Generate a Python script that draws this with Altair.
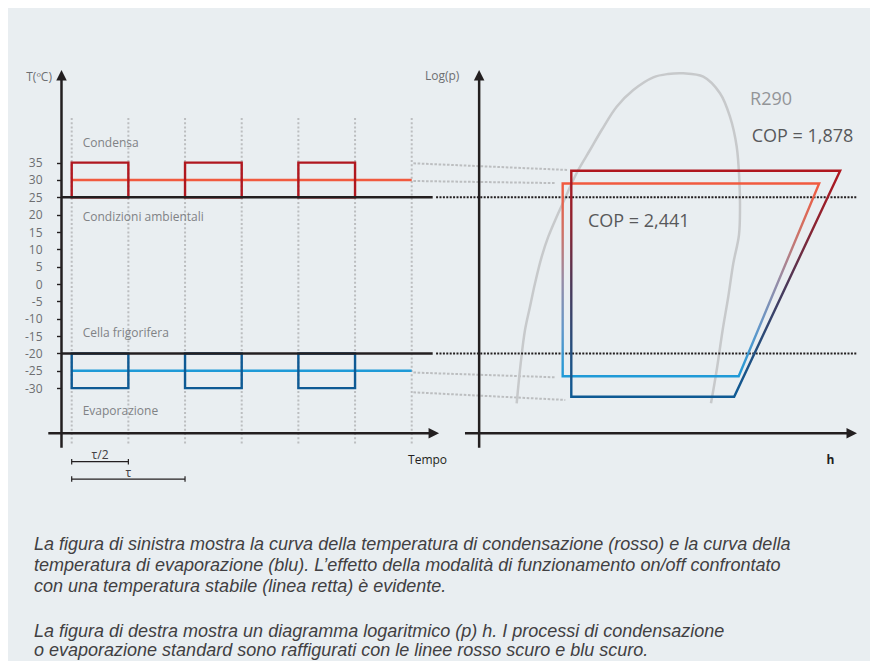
import altair as alt
import pandas as pd

# ---------------- values ----------------
# vertical temperature axis (°C)
T_TICKS = [35, 30, 25, 20, 15, 10, 5, 0, -5, -10, -15, -20, -25, -30]
# time axis in units of tau/2
PHASES = [0, 1, 2, 3, 4, 5, 6]
ON_START = [0, 2, 4]
ON_END = [1, 3, 5]
T_COND_ON, T_AMBIENT, T_COND_STABLE = 35, 25, 30
T_EVAP_ON, T_CELL, T_EVAP_STABLE = -30, -20, -25

# log(p)-h cycles (h in the same horizontal unit, level expressed in °C)
DARK_H = [8.816, 13.56, 11.69, 8.816, 8.816]
DARK_T = [32.67, 32.67, -32.47, -32.47, 32.67]
LIGHT_H = [8.664, 13.19, 11.77, 8.664, 8.664]
LIGHT_T = [28.98, 28.98, -26.59, -26.59, 28.98]

# R290 saturation dome
DOME_H = [7.852, 7.923, 7.999, 8.087, 8.176, 8.294, 8.410, 8.558, 8.705, 8.823,
          8.939, 9.146, 9.352, 9.617, 9.910, 10.263, 10.522, 10.792, 11.145, 11.440,
          11.616, 11.735, 11.781, 11.793, 11.775, 11.675, 11.586, 11.487, 11.382, 11.281]
DOME_T = [-34.37, -22.84, -13.24, -6.53, 0.22, 7.88, 13.65, 19.41, 24.71, 29.03,
          32.87, 38.63, 44.39, 51.11, 55.92, 59.58, 60.53, 60.73, 59.76, 54.97,
          48.23, 39.58, 29.99, 22.29, 14.14, 5.98, -3.65, -13.24, -24.77, -34.37]

# dotted connectors from the left diagram to the right one
CONN_H0 = [6.03, 6.03, 6.03, 6.03]
CONN_T0 = [34.8, 29.7, -25.5, -31.2]
CONN_H1 = [8.76, 8.53, 8.53, 8.71]
CONN_T1 = [32.87, 29.1, -26.87, -33.4]

# axes geometry (shared units)
LEFT_AXIS_H, RIGHT_AXIS_H = -0.18, 7.19
AXIS_TOP_T, AXIS_BOTTOM_T, BASE_T = 60.0, -47.2, -43.0
TIME_AXIS_H = [-0.413, 6.39]
H_AXIS_H = [6.94, 13.765]
ARROW_TIP_T = 60.17
SOLID_REF_H = [-0.18, 6.37]
DOTTED_REF_H = [6.43, 13.86]
GRID_T = [47.85, -46.4]

REGION_LABELS = ["Condensa", "Condizioni ambientali", "Cella frigorifera", "Evaporazione"]
REGION_T = [40.7, 19.24, -14.1, -36.5]

CAPTION = [
    "La figura di sinistra mostra la curva della temperatura di condensazione (rosso) e la curva della",
    "temperatura di evaporazione (blu). L\u2019effetto della modalità di funzionamento on/off confrontato",
    "con una temperatura stabile (linea retta) è evidente.",
    "La figura di destra mostra un diagramma logaritmico (p) h. I processi di condensazione",
    "o evaporazione standard sono raffigurati con le linee rosso scuro e blu scuro.",
]
CAPTION_T = [-75.2, -81.28, -87.33, -100.13, -105.75]

# ---------------- colours / scales ----------------
BLACK = "#231f20"
DARK_RED, LIGHT_RED = "#b0171f", "#f15a3f"
DARK_BLUE, LIGHT_BLUE = "#0e5a94", "#1f9ad7"
GRAY_DOT = "#bcbec0"
FONT = "Open Sans"

XS = alt.Scale(domain=[-1.124, 14.087], nice=False, zero=False)
YS = alt.Scale(domain=[-108.63, 79.553], nice=False, zero=False)
YAXIS = alt.Axis(values=T_TICKS, domain=False, grid=False, tickSize=5, tickWidth=1.4,
                 tickColor=BLACK, labelColor="#6d6e71", labelFontSize=12, labelFont=FONT,
                 labelPadding=14.5, labelOverlap=False, offset=-53.5, title=None,
                 labelExpr="'' + datum.value")


def X(f):
    return alt.X(f, type="quantitative", scale=XS, axis=None)


def Y(f):
    return alt.Y(f, type="quantitative", scale=YS, axis=YAXIS)


# vertical dotted phase lines
grid_df = pd.DataFrame({"h": PHASES, "t0": GRID_T[0], "t1": GRID_T[1]})
grid = alt.Chart(grid_df).mark_rule(color=GRAY_DOT, strokeWidth=2, strokeDash=[2, 2.2]).encode(
    x=X("h"), y=Y("t0"), y2="t1")

conn_df = pd.DataFrame({"h0": CONN_H0, "t0": CONN_T0, "h1": CONN_H1, "t1": CONN_T1})
conn = alt.Chart(conn_df).mark_rule(color=GRAY_DOT, strokeWidth=2, strokeDash=[2.6, 1.6]).encode(
    x=X("h0"), y=Y("t0"), x2="h1", y2="t1")

dome_df = pd.DataFrame({"h": DOME_H, "t": DOME_T, "i": range(len(DOME_H))})
dome = alt.Chart(dome_df).mark_line(color="#c7c9cb", strokeWidth=2.5, interpolate="catmull-rom").encode(
    x=X("h"), y=Y("t"), order="i:Q")

ref_df = pd.DataFrame({"t": [T_AMBIENT, T_CELL]})
ref_dotted = alt.Chart(ref_df).mark_rule(color=BLACK, strokeWidth=2, strokeDash=[2, 1.4]).encode(
    x=alt.X(datum=DOTTED_REF_H[0], scale=XS, axis=None), x2=alt.datum(DOTTED_REF_H[1]), y=Y("t"))
ref_solid = alt.Chart(ref_df).mark_rule(color=BLACK, strokeWidth=2.4).encode(
    x=alt.X(datum=SOLID_REF_H[0], scale=XS, axis=None), x2=alt.datum(SOLID_REF_H[1]), y=Y("t"))


def cycle(hs, ts, stops):
    df = pd.DataFrame({"h": hs, "t": ts, "i": range(len(hs))})
    grad = alt.LinearGradient(gradient="linear", x1=0, y1=0, x2=0, y2=1,
                              stops=[alt.GradientStop(color=c, offset=o) for o, c in stops])
    return alt.Chart(df).mark_line(stroke=grad, strokeWidth=2.4, strokeJoin="miter",
                                   strokeCap="square").encode(x=X("h"), y=Y("t"), order="i:Q")


light_cycle = cycle(LIGHT_H, LIGHT_T, [(0, LIGHT_RED), (0.25, "#cf7266"), (0.5, "#978ca6"),
                                       (0.75, "#6497c9"), (1, LIGHT_BLUE)])
dark_cycle = cycle(DARK_H, DARK_T, [(0, DARK_RED), (0.25, "#8a2432"), (0.5, "#4c3858"),
                                    (0.75, "#2a4c7a"), (1, DARK_BLUE)])

stable_df = pd.DataFrame({"t": [T_COND_STABLE, T_EVAP_STABLE], "c": [LIGHT_RED, LIGHT_BLUE]})
stable = alt.Chart(stable_df).mark_rule(strokeWidth=2.4).encode(
    x=alt.X(datum=PHASES[0], scale=XS, axis=None), x2=alt.datum(PHASES[-1]), y=Y("t"),
    color=alt.Color("c:N", scale=None))

on_df = pd.DataFrame({
    "s": ON_START * 2, "e": ON_END * 2,
    "lo": [T_AMBIENT] * 3 + [T_CELL] * 3,
    "hi": [T_COND_ON] * 3 + [T_EVAP_ON] * 3,
    "c": [DARK_RED] * 3 + [DARK_BLUE] * 3,
})
onoff = alt.Chart(on_df).mark_rect(filled=False, strokeWidth=2.4).encode(
    x=X("s"), x2="e", y=Y("lo"), y2="hi", color=alt.Color("c:N", scale=None))

# axes lines
vax_df = pd.DataFrame({"h": [LEFT_AXIS_H, RIGHT_AXIS_H]})
vaxes = alt.Chart(vax_df).mark_rule(color=BLACK, strokeWidth=2.5).encode(
    x=X("h"), y=alt.Y(datum=AXIS_BOTTOM_T, scale=YS, axis=YAXIS), y2=alt.datum(AXIS_TOP_T))
hax_df = pd.DataFrame({"h0": [TIME_AXIS_H[0], H_AXIS_H[0]], "h1": [TIME_AXIS_H[1], H_AXIS_H[1]]})
haxes = alt.Chart(hax_df).mark_rule(color=BLACK, strokeWidth=2.5).encode(
    x=X("h0"), x2="h1", y=alt.Y(datum=BASE_T, scale=YS, axis=YAXIS))
up_df = pd.DataFrame({"h": [LEFT_AXIS_H, RIGHT_AXIS_H], "t": [ARROW_TIP_T] * 2})
up_arrows = alt.Chart(up_df).mark_point(shape="M0,-1L1,1L-1,1Z", filled=True, size=110,
                                        color=BLACK, opacity=1).encode(x=X("h"), y=Y("t"))
rt_df = pd.DataFrame({"h": [TIME_AXIS_H[1], H_AXIS_H[1]], "t": [BASE_T] * 2})
rt_arrows = alt.Chart(rt_df).mark_point(shape="M1,0L-1,-1L-1,1Z", filled=True, size=110,
                                        color=BLACK, opacity=1).encode(x=X("h"), y=Y("t"))

# tau brackets
br_df = pd.DataFrame({"h0": [0, 0], "h1": [1, 2], "t": [-51.2, -56.2]})
brackets = alt.Chart(br_df).mark_rule(color=BLACK, strokeWidth=1.2).encode(
    x=X("h0"), x2="h1", y=Y("t"))
cap_df = pd.DataFrame({"h": [0, 1, 0, 2], "t0": [-50.4, -50.4, -55.4, -55.4],
                       "t1": [-52.0, -52.0, -57.0, -57.0]})
caps = alt.Chart(cap_df).mark_rule(color=BLACK, strokeWidth=1.2).encode(
    x=X("h"), y=Y("t0"), y2="t1")


def texts(labels, hs, ts, align="left", size=12, color="#808285", weight="normal",
          font=FONT, style="normal"):
    df = pd.DataFrame({"label": labels, "h": hs, "t": ts})
    return alt.Chart(df).mark_text(align=align, baseline="middle", fontSize=size, color=color,
                                   fontWeight=weight, font=font, fontStyle=style).encode(
        x=X("h"), y=Y("t"), text="label:N")


region_txt = texts(REGION_LABELS, [0.194] * 4, REGION_T)
tlabel = texts(["T(ºC)"], [-0.348], [59.76], align="right", color="#6d6e71")
loglabel = texts(["Log(p)"], [6.234], [59.96], color="#6d6e71")
tempo = texts(["Tempo"], [5.935], [-50.7], color=BLACK)
hlabel = texts(["h"], [13.32], [-50.7], color=BLACK, weight="bold")
tau_txt = texts(["\u03c4/2", "\u03c4"], [0.5, 1.0], [-49.3, -54.4], align="center", color="#414042")
r290 = texts(["R290"], [11.97], [53.04], size=18, color="#939598")
cop = texts(["COP = 1,878", "COP = 2,441"], [12.0, 9.11], [42.46, 17.97], size=18, color="#58595b")
caption = texts(CAPTION, [-0.665] * 5, CAPTION_T, size=18, color="#414042",
                font="Liberation Sans", style="italic")

chart = alt.layer(
    grid, conn, dome, ref_dotted, light_cycle, dark_cycle, stable, onoff, ref_solid,
    vaxes, haxes, up_arrows, rt_arrows, brackets, caps,
    region_txt, tlabel, loglabel, tempo, hlabel, tau_txt, r290, cop, caption,
).properties(
    width=862, height=653, autosize=alt.AutoSizeParams(type="none"), padding=0,
    background="#e9eef1",
).configure_view(stroke=None)

chart.save("out.html", embed_options={"renderer": "svg", "actions": False})
